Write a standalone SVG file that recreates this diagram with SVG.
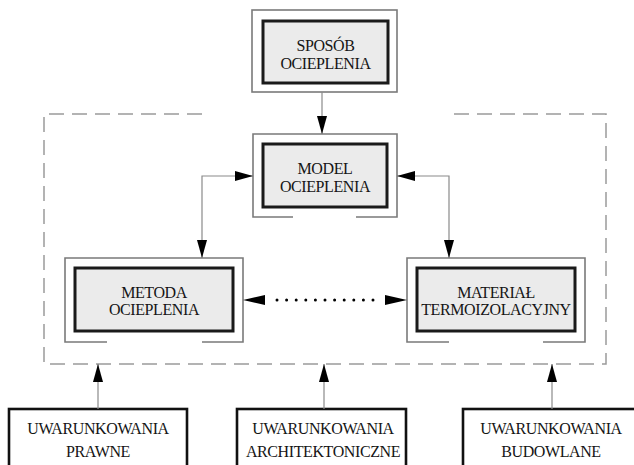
<svg xmlns="http://www.w3.org/2000/svg" width="634" height="465" viewBox="0 0 634 465">
<style>
.outer{fill:#fff;stroke:#7a7a7a;stroke-width:1.6}
.bracket{fill:none;stroke:#7a7a7a;stroke-width:1.6}
.inner{fill:#ebebeb;stroke:#1a1a1a;stroke-width:3}
.cond{fill:#fff;stroke:#111;stroke-width:2.6}
.t{font-family:"Liberation Serif","Times New Roman",serif;font-size:16px;letter-spacing:-0.4px;fill:#151515;text-anchor:middle}
.con{fill:none;stroke:#8a8a8a;stroke-width:1.2}
.dash{fill:none;stroke:#9a9a9a;stroke-width:1.5;stroke-dasharray:15 8}
.head{fill:#000}
</style>
<defs>
<marker id="ah" markerUnits="userSpaceOnUse" markerWidth="18" markerHeight="10" refX="18" refY="5" orient="auto-start-reverse">
<path d="M0,0 L18,5 L0,10 z" fill="#000"/>
</marker>
</defs>

<g id="boundary">
<path class="dash" d="M202,114 H44 V364 H606 V114 H448"/>
</g>

<g id="sposob">
<rect class="outer" x="252" y="10" width="145" height="82"/>
<rect class="inner" x="263" y="21" width="125" height="62"/>
<text class="t" x="325.5" y="51">SPOSÓB</text>
<text class="t" x="325.5" y="69">OCIEPLENIA</text>
</g>

<g id="model">
<path class="bracket" d="M293,217 H253 V134 H397 V217 H356"/>
<rect class="inner" x="263" y="144" width="124" height="63"/>
<text class="t" x="325" y="174">MODEL</text>
<text class="t" x="325" y="192">OCIEPLENIA</text>
</g>

<g id="metoda">
<path class="bracket" d="M107,342 H65 V258 H243 V342 H202"/>
<rect class="inner" x="75" y="268" width="158" height="63"/>
<text class="t" x="154" y="298">METODA</text>
<text class="t" x="154" y="315">OCIEPLENIA</text>
</g>

<g id="material">
<path class="bracket" d="M449,342 H407 V258 H585 V342 H543"/>
<rect class="inner" x="417" y="268" width="158" height="63"/>
<text class="t" x="496" y="298">MATERIAŁ</text>
<text class="t" x="496" y="315">TERMOIZOLACYJNY</text>
</g>

<g id="prawne">
<rect class="cond" x="9" y="409" width="178" height="70"/>
<text class="t" x="98" y="434">UWARUNKOWANIA</text>
<text class="t" x="98" y="457">PRAWNE</text>
</g>

<g id="architektoniczne">
<rect class="cond" x="237" y="409" width="169" height="70"/>
<text class="t" x="323" y="434">UWARUNKOWANIA</text>
<text class="t" x="323" y="457">ARCHITEKTONICZNE</text>
</g>

<g id="budowlane">
<rect class="cond" x="463" y="409" width="180" height="70"/>
<text class="t" x="551" y="434">UWARUNKOWANIA</text>
<text class="t" x="551" y="457">BUDOWLANE</text>
</g>

<g id="connectors">
<path class="con" d="M322,92 V134" marker-end="url(#ah)"/>
<path class="con" d="M253,176 H202 V258" marker-start="url(#ah)" marker-end="url(#ah)"/>
<path class="con" d="M397,176 H449 V258" marker-start="url(#ah)" marker-end="url(#ah)"/>
<path d="M277,300 H374" fill="none" stroke="#000" stroke-width="3" stroke-linecap="round" stroke-dasharray="0 9.6"/>
<path class="head" d="M243,300 L265,295 L265,305 z"/>
<path class="head" d="M407,300 L385,295 L385,305 z"/>
<path class="con" d="M98,409 V364" marker-end="url(#ah)"/>
<path class="con" d="M324,409 V364" marker-end="url(#ah)"/>
<path class="con" d="M552,409 V364" marker-end="url(#ah)"/>
</g>
</svg>
